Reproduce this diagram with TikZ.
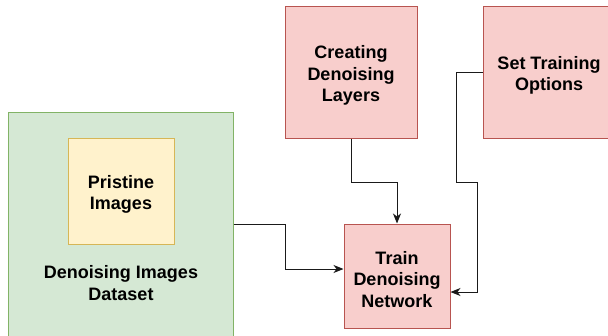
\documentclass[tikz,border=0pt]{standalone}
\usepackage{fontspec}
\setmainfont{Liberation Sans}
\usetikzlibrary{arrows.meta, positioning}

\definecolor{redfill}{HTML}{F8CECC}
\definecolor{redline}{HTML}{B85450}
\definecolor{greenfill}{HTML}{D5E8D4}
\definecolor{greenline}{HTML}{82B366}
\definecolor{yellowfill}{HTML}{FFF2CC}
\definecolor{yellowline}{HTML}{D6B656}
\definecolor{wireline}{HTML}{1A1A1A}

% pushes the text block a little lower, as in the original drawing
\newcommand\padtop{\rule{0pt}{20pt}}

\tikzset{
  boxtext/.style={align=center, font=\bfseries\fontsize{18}{21.5}\selectfont, text=black, inner sep=0pt},
  box/.style={boxtext, draw, line width=1pt, minimum width=132pt, minimum height=132pt},
  redbox/.style={box, fill=redfill, draw=redline},
  wire/.style={-{Stealth[length=10pt,width=8pt,inset=3pt]}, line width=1pt, draw=wireline},
}

\begin{document}
\begin{tikzpicture}[x=1pt, y=-1pt]
\clip (0,0) rectangle (608,335);
\fill[white] (0,0) rectangle (608,335);
% dataset block with the pristine images inside
\node[box, fill=greenfill, draw=greenline, minimum width=225pt, minimum height=224pt] (dataset) at (120.5,224) {};
\node[box, fill=yellowfill, draw=yellowline, minimum width=106pt, minimum height=106pt] (pristine) at (121,191) {\padtop Pristine\\Images};
\node[boxtext, below=14pt of pristine] (datasetlabel) {\padtop Denoising Images\\Dataset};
% network blocks
\node[redbox] (layers) at (351,72) {\padtop Creating\\Denoising\\Layers};
\node[redbox] (options) at (549,72) {\padtop Set Training\\Options};
\node[redbox, minimum width=106pt, minimum height=104pt] (train) at (397,276) {\padtop Train\\Denoising\\Network};
% connectors
\coordinate (dbend) at (285,224);
\coordinate (obend1) at (456,182);
\coordinate (obend2) at (477,182);
\draw[wire] (dataset.east |- dbend) -- (dbend) |- ([yshift=7pt]train.west);
\draw[wire] (layers.south) |- (train.north |- obend1) -- (train.north);
\draw[wire] (options.west) -| (obend1) -- (obend2) |- ([yshift=-16pt]train.east);
\end{tikzpicture}
\end{document}
